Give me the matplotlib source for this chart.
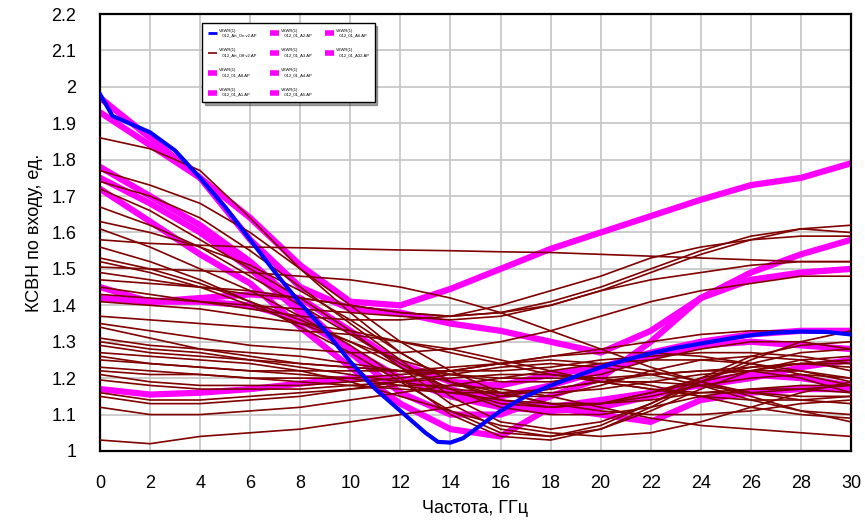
import matplotlib
matplotlib.use("Agg")
import matplotlib.pyplot as plt
from matplotlib.lines import Line2D

# ---- data ----
freq_2ghz = [0, 2, 4, 6, 8, 10, 12, 14, 16, 18, 20, 22, 24, 26, 28, 30]

freq_blue = [0, 0.5, 1, 2, 3, 4, 5, 6, 7, 8, 9, 10, 11, 12, 13, 13.5, 14, 14.5, 15,
             16, 17, 18, 19, 20, 21, 22, 23, 24, 25, 26, 27, 28, 29, 30]
vswr_att_on = [1.98, 1.92, 1.905, 1.875, 1.825, 1.75, 1.67, 1.58, 1.49, 1.405, 1.33,
               1.245, 1.17, 1.11, 1.05, 1.025, 1.023, 1.035, 1.06, 1.11, 1.15, 1.18,
               1.205, 1.23, 1.25, 1.268, 1.283, 1.295, 1.307, 1.318, 1.325, 1.328,
               1.327, 1.32]

# magenta traces (one per state file)
vswr_a8 = [1.97, 1.86, 1.75, 1.64, 1.51, 1.41, 1.40, 1.445, 1.50, 1.555, 1.60, 1.645, 1.69, 1.73, 1.75, 1.79]
vswr_a1 = [1.93, 1.84, 1.75, 1.58, 1.45, 1.39, 1.38, 1.35, 1.33, 1.30, 1.27, 1.33, 1.42, 1.49, 1.54, 1.58]
vswr_a2 = [1.72, 1.63, 1.54, 1.46, 1.34, 1.23, 1.13, 1.06, 1.04, 1.12, 1.14, 1.16, 1.18, 1.20, 1.23, 1.25]
vswr_a3 = [1.78, 1.70, 1.62, 1.52, 1.40, 1.27, 1.16, 1.10, 1.10, 1.15, 1.20, 1.30, 1.42, 1.47, 1.49, 1.50]
vswr_a4 = [1.45, 1.41, 1.42, 1.43, 1.42, 1.33, 1.24, 1.19, 1.18, 1.21, 1.23, 1.27, 1.30, 1.32, 1.33, 1.33]
vswr_a5 = [1.17, 1.155, 1.16, 1.17, 1.185, 1.20, 1.20, 1.17, 1.13, 1.12, 1.10, 1.08, 1.14, 1.16, 1.17, 1.17]
vswr_a6 = [1.75, 1.68, 1.60, 1.50, 1.38, 1.27, 1.20, 1.16, 1.15, 1.18, 1.22, 1.26, 1.29, 1.30, 1.29, 1.28]
vswr_a32 = [1.42, 1.41, 1.41, 1.40, 1.36, 1.28, 1.20, 1.15, 1.12, 1.11, 1.12, 1.15, 1.19, 1.21, 1.20, 1.18]

# brown traces: Att_Off v2 family
vswr_att_off = [
    [1.86, 1.83, 1.77, 1.64, 1.50, 1.38, 1.27, 1.19, 1.15, 1.15, 1.18, 1.22, 1.25, 1.26, 1.25, 1.22],
    [1.77, 1.73, 1.68, 1.60, 1.50, 1.40, 1.30, 1.22, 1.16, 1.13, 1.13, 1.15, 1.18, 1.20, 1.21, 1.20],
    [1.74, 1.70, 1.64, 1.55, 1.45, 1.35, 1.25, 1.15, 1.08, 1.06, 1.08, 1.13, 1.19, 1.24, 1.27, 1.28],
    [1.72, 1.66, 1.58, 1.50, 1.42, 1.33, 1.23, 1.13, 1.06, 1.04, 1.06, 1.11, 1.17, 1.22, 1.25, 1.26],
    [1.67, 1.62, 1.56, 1.48, 1.40, 1.32, 1.24, 1.17, 1.12, 1.10, 1.10, 1.12, 1.15, 1.17, 1.18, 1.18],
    [1.63, 1.60, 1.56, 1.51, 1.44, 1.36, 1.27, 1.19, 1.14, 1.12, 1.13, 1.16, 1.20, 1.23, 1.24, 1.23],
    [1.61, 1.56, 1.50, 1.44, 1.37, 1.29, 1.20, 1.10, 1.04, 1.03, 1.06, 1.12, 1.19, 1.25, 1.30, 1.33],
    [1.58, 1.57, 1.565, 1.56, 1.558, 1.555, 1.552, 1.55, 1.547, 1.545, 1.54, 1.535, 1.53, 1.525, 1.52, 1.52],
    [1.56, 1.52, 1.47, 1.41, 1.34, 1.27, 1.19, 1.11, 1.05, 1.04, 1.07, 1.13, 1.20, 1.26, 1.29, 1.30],
    [1.53, 1.50, 1.46, 1.41, 1.36, 1.30, 1.23, 1.17, 1.13, 1.12, 1.13, 1.16, 1.19, 1.22, 1.24, 1.25],
    [1.52, 1.49, 1.45, 1.40, 1.35, 1.30, 1.25, 1.21, 1.19, 1.19, 1.21, 1.25, 1.28, 1.30, 1.30, 1.28],
    [1.505, 1.50, 1.495, 1.49, 1.48, 1.47, 1.45, 1.42, 1.38, 1.33, 1.28, 1.23, 1.19, 1.16, 1.15, 1.15],
    [1.49, 1.47, 1.45, 1.43, 1.42, 1.40, 1.38, 1.37, 1.38, 1.40, 1.44, 1.49, 1.54, 1.58, 1.61, 1.62],
    [1.47, 1.46, 1.45, 1.44, 1.42, 1.40, 1.38, 1.37, 1.38, 1.41, 1.45, 1.50, 1.55, 1.59, 1.61, 1.60],
    [1.45, 1.43, 1.41, 1.39, 1.37, 1.36, 1.36, 1.37, 1.40, 1.44, 1.48, 1.53, 1.56, 1.58, 1.59, 1.59],
    [1.43, 1.42, 1.41, 1.40, 1.39, 1.38, 1.37, 1.36, 1.37, 1.40, 1.44, 1.47, 1.49, 1.51, 1.52, 1.52],
    [1.41, 1.40, 1.39, 1.37, 1.35, 1.33, 1.30, 1.27, 1.24, 1.21, 1.19, 1.17, 1.16, 1.16, 1.17, 1.18],
    [1.37, 1.36, 1.35, 1.34, 1.33, 1.32, 1.30, 1.28, 1.25, 1.22, 1.19, 1.17, 1.15, 1.14, 1.14, 1.15],
    [1.35, 1.33, 1.31, 1.29, 1.28, 1.27, 1.27, 1.28, 1.30, 1.33, 1.37, 1.41, 1.44, 1.46, 1.48, 1.48],
    [1.34, 1.31, 1.28, 1.26, 1.24, 1.23, 1.22, 1.22, 1.22, 1.23, 1.25, 1.26, 1.27, 1.27, 1.26, 1.24],
    [1.31, 1.29, 1.28, 1.27, 1.26, 1.24, 1.22, 1.19, 1.16, 1.13, 1.11, 1.10, 1.10, 1.11, 1.13, 1.14],
    [1.30, 1.28, 1.27, 1.25, 1.23, 1.21, 1.19, 1.17, 1.16, 1.16, 1.17, 1.19, 1.21, 1.22, 1.22, 1.20],
    [1.29, 1.27, 1.26, 1.25, 1.24, 1.23, 1.22, 1.21, 1.20, 1.20, 1.20, 1.21, 1.22, 1.23, 1.24, 1.24],
    [1.27, 1.26, 1.25, 1.24, 1.22, 1.19, 1.15, 1.11, 1.07, 1.05, 1.04, 1.05, 1.08, 1.12, 1.16, 1.19],
    [1.26, 1.24, 1.23, 1.22, 1.22, 1.22, 1.22, 1.23, 1.24, 1.26, 1.28, 1.30, 1.32, 1.33, 1.33, 1.32],
    [1.25, 1.24, 1.23, 1.22, 1.21, 1.20, 1.18, 1.16, 1.14, 1.13, 1.13, 1.14, 1.16, 1.17, 1.17, 1.16],
    [1.23, 1.22, 1.21, 1.20, 1.20, 1.20, 1.21, 1.22, 1.24, 1.26, 1.27, 1.27, 1.26, 1.24, 1.21, 1.18],
    [1.22, 1.21, 1.21, 1.20, 1.19, 1.18, 1.17, 1.16, 1.16, 1.17, 1.19, 1.21, 1.22, 1.22, 1.20, 1.16],
    [1.21, 1.19, 1.18, 1.18, 1.18, 1.19, 1.20, 1.22, 1.24, 1.25, 1.24, 1.22, 1.19, 1.15, 1.11, 1.08],
    [1.195, 1.18, 1.17, 1.17, 1.17, 1.18, 1.19, 1.20, 1.21, 1.21, 1.20, 1.18, 1.15, 1.12, 1.10, 1.09],
    [1.16, 1.14, 1.14, 1.15, 1.16, 1.17, 1.18, 1.18, 1.17, 1.15, 1.12, 1.09, 1.07, 1.06, 1.05, 1.04],
    [1.15, 1.13, 1.13, 1.14, 1.15, 1.17, 1.19, 1.21, 1.23, 1.24, 1.23, 1.21, 1.18, 1.14, 1.11, 1.10],
    [1.12, 1.10, 1.10, 1.11, 1.12, 1.14, 1.16, 1.18, 1.20, 1.22, 1.24, 1.25, 1.25, 1.24, 1.22, 1.19],
    [1.03, 1.02, 1.04, 1.05, 1.06, 1.08, 1.10, 1.12, 1.15, 1.17, 1.19, 1.19, 1.18, 1.16, 1.14, 1.13],
]

magenta_traces = {
    "012_01_A8.AP": vswr_a8,
    "012_01_A1.AP": vswr_a1,
    "012_01_A2.AP": vswr_a2,
    "012_01_A3.AP": vswr_a3,
    "012_01_A4.AP": vswr_a4,
    "012_01_A5.AP": vswr_a5,
    "012_01_A6.AP": vswr_a6,
    "012_01_A32.AP": vswr_a32,
}

x_ticks = list(range(0, 31, 2))
y_ticks = [1.0, 1.1, 1.2, 1.3, 1.4, 1.5, 1.6, 1.7, 1.8, 1.9, 2.0, 2.1, 2.2]
y_tick_labels = ["1", "1.1", "1.2", "1.3", "1.4", "1.5", "1.6", "1.7", "1.8", "1.9", "2", "2.1", "2.2"]

BLUE = "#0000ff"
MAGENTA = "#ff00ff"
BROWN = "#800000"

plt.rcParams["font.family"] = ["Liberation Sans", "DejaVu Sans"]

fig = plt.figure(figsize=(8.65, 5.31), dpi=100)
ax = fig.add_axes([0.1156, 0.1507, 0.8682, 0.8229])

# magenta measured states (thick, underneath)
magenta_handles = {}
for name, vals in magenta_traces.items():
    ln, = ax.plot(freq_2ghz, vals, color=MAGENTA, lw=4.5, solid_capstyle="round",
                  solid_joinstyle="round", zorder=2)
    magenta_handles[name] = ln

# brown Att_Off family
off_handle = None
for vals in vswr_att_off:
    ln, = ax.plot(freq_2ghz, vals, color=BROWN, lw=1.2, zorder=3)
    if off_handle is None:
        off_handle = ln

on_handle, = ax.plot(freq_blue, vswr_att_on, color=BLUE, lw=3.0, zorder=4)

ax.set_xlim(0, 30)
ax.set_ylim(1.0, 2.2)
ax.set_xticks(x_ticks)
ax.set_yticks(y_ticks)
ax.set_yticklabels(y_tick_labels)
ax.tick_params(length=0, pad=17, labelsize=13)
ax.grid(True, color="#c8c8c8", lw=1.3)
ax.set_axisbelow(True)
for spine in ax.spines.values():
    spine.set_linewidth(1.6)
    spine.set_color("black")

ax.set_xlabel("Частота, ГГц", fontsize=13, labelpad=6)
ax.set_ylabel("КСВН по входу, ед.", fontsize=13, labelpad=6)

# legend: 3 columns of 4 rows, column-major like the original (last column has 2 blanks)
handles = [on_handle, off_handle] + [magenta_handles[k] for k in magenta_traces]
labels = ["VSWR(1)\n   012_Att_On v2.AP", "VSWR(1)\n   012_Att_Off v2.AP"] + \
         [f"VSWR(1)\n   {k}" for k in magenta_traces]
blank = Line2D([], [], color="none")
handles += [blank, blank]
labels += ["", ""]
leg = ax.legend(handles, labels, ncol=3, loc="upper left", bbox_to_anchor=(0.136, 0.979),
                borderaxespad=0, fontsize=3.0, frameon=True, fancybox=False, shadow=True,
                handlelength=2.2, columnspacing=3.2, labelspacing=2.7, borderpad=1.3,
                handletextpad=0.5)
leg.get_frame().set_edgecolor("black")
leg.get_frame().set_linewidth(1.0)
leg.set_zorder(10)
for h in leg.legend_handles:
    h.set_solid_capstyle("butt")
    if h.get_color() == MAGENTA:
        h.set_linewidth(4)
    elif h.get_color() == BLUE:
        h.set_linewidth(2.0)

fig.savefig("out.png", dpi=100)
